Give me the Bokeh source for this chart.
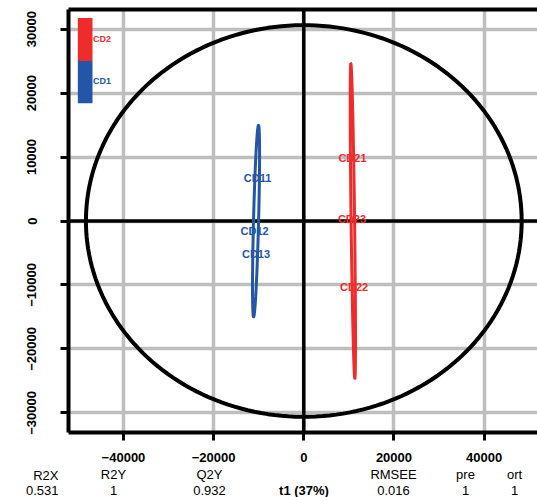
import numpy as np
from bokeh.plotting import figure
from bokeh.layouts import column
from bokeh.models import FixedTicker, Span, LinearAxis, Range1d, ColumnDataSource
from bokeh.embed import file_html
from bokeh.resources import INLINE
from bokeh.core.properties import value

# ---------------- data ----------------
samples = ["CD11", "CD12", "CD13", "CD21", "CD22", "CD23"]
classes = ["CD1", "CD1", "CD1", "CD2", "CD2", "CD2"]
t1 = [-10270, -10910, -10600, 10800, 11150, 10690]      # predictive score
to1 = [6750, -1600, -5180, 9860, -10260, 370]          # orthogonal score
legend_classes = ["CD2", "CD1"]                         # top -> bottom
class_colors = {"CD1": "#2356A6", "CD2": "#EE2C2C"}

x_ticks = [-40000, -20000, 0, 20000, 40000]
x_tick_labels = ["\u221240000", "\u221220000", "0", "20000", "40000"]
y_ticks = [-30000, -20000, -10000, 0, 10000, 20000, 30000]
y_tick_labels = ["\u221230000", "\u221220000", "\u221210000", "0", "10000", "20000", "30000"]

x_label = "t1 (37%)"
summary_names = ["R2X", "R2Y", "Q2Y", "RMSEE", "pre", "ort"]
summary_values = ["0.531", "1", "0.932", "0.016", "1", "1"]

FONT = "Liberation Sans"

# ---------------- statistics for ellipses ----------------
tx = np.array(t1, float)
ty = np.array(to1, float)
n = len(tx)
qf = (n - 2) / 2.0 * (0.05 ** (-2.0 / (n - 2)) - 1)           # F(0.95; 2, n-2)
hotFisN = (n - 1) * 2 * (n ** 2 - 1) / (n ** 2 * (n - 2)) * qf
rx = np.sqrt(np.var(tx, ddof=1) * hotFisN)
ry = np.sqrt(np.var(ty, ddof=1) * hotFisN)
chi2 = -2 * np.log(0.05)
ang = np.linspace(0, 2 * np.pi, 200)

xlim = rx * 1.08
ylim = ry * 1.08

# ---------------- layout ----------------
W = 537
H1, H2 = 467, 30
LEFT, TOP, BOTTOM = 68, 9, 35
frame_w = W - LEFT
ref_frame_w = 470.6
x_end = -xlim + 2 * xlim * frame_w / ref_frame_w

p = figure(width=W, height=H1, output_backend="svg", toolbar_location=None,
           x_range=Range1d(-xlim, x_end), y_range=Range1d(-ylim, ylim),
           min_border_left=LEFT, min_border_right=0, min_border_top=TOP,
           min_border_bottom=BOTTOM)
p.outline_line_color = None
p.background_fill_color = "white"

# grid
for g in (p.xgrid, p.ygrid):
    g.grid_line_color = "#BEBEBE"
    g.grid_line_width = 3.5
p.xgrid.ticker = FixedTicker(ticks=x_ticks)
p.ygrid.ticker = FixedTicker(ticks=y_ticks)

# axes
for ax in (p.xaxis, p.yaxis):
    ax.axis_line_color = "black"
    ax.axis_line_width = 4
    ax.major_tick_line_color = "black"
    ax.major_tick_line_width = 3
    ax.major_tick_out = 8
    ax.major_tick_in = 0
    ax.minor_tick_line_color = None
    ax.major_label_text_font = FONT
    ax.major_label_text_font_style = "bold"
    ax.major_label_text_font_size = "13px"
    ax.major_label_text_color = "black"
p.xaxis.ticker = FixedTicker(ticks=x_ticks)
p.xaxis.major_label_overrides = {t: l for t, l in zip(x_ticks, x_tick_labels)}
p.xaxis.major_label_standoff = 12
p.yaxis.ticker = FixedTicker(ticks=y_ticks)
p.yaxis.major_label_overrides = {t: l for t, l in zip(y_ticks, y_tick_labels)}
p.yaxis.major_label_orientation = "vertical"
p.yaxis.major_label_standoff = 24

top_axis = LinearAxis(ticker=FixedTicker(ticks=[]), major_label_text_font_size="0px",
                      major_tick_out=0, major_tick_in=0, minor_tick_out=0, minor_tick_in=0,
                      major_label_standoff=0, axis_line_width=4, axis_line_color="black")
p.add_layout(top_axis, "above")

# zero lines
p.add_layout(Span(location=0, dimension="height", line_color="black", line_width=3.5, level="underlay"))
p.add_layout(Span(location=0, dimension="width", line_color="black", line_width=3.5, level="underlay"))

# Hotelling ellipse
p.line(rx * np.cos(ang), ry * np.sin(ang), line_color="black", line_width=4)

# class ellipses
for cls in ["CD1", "CD2"]:
    idx = [i for i, c in enumerate(classes) if c == cls]
    xy = np.column_stack([tx[idx], ty[idx]])
    m = xy.mean(axis=0)
    S = np.cov(xy.T)
    L = np.linalg.cholesky(S)
    circ = np.vstack([np.cos(ang), np.sin(ang)]) * np.sqrt(chi2)
    pts = m[:, None] + L @ circ
    p.line(pts[0], pts[1], line_color=class_colors[cls], line_width=3)

# sample labels
src = ColumnDataSource(dict(x=t1, y=to1, name=samples,
                            color=[class_colors[c] for c in classes]))
p.text(x="x", y="y", text="name", source=src, text_color="color",
       text_font=value(FONT), text_font_style="bold", text_font_size="11px",
       text_align="center", text_baseline="middle")

# colour legend (positioned as fractions of the full plotting region)
xspan, yspan = 2 * xlim, 2 * ylim
lx0 = -xlim + 0.0198 * xspan
lx1 = -xlim + 0.051 * xspan
edges = [ylim - 0.0201 * yspan, ylim - 0.122 * yspan, ylim - 0.2215 * yspan]
txt_y = [ylim - 0.0699 * yspan, ylim - 0.1693 * yspan]
for k, cls in enumerate(legend_classes):
    p.quad(left=[lx0], right=[lx1], top=[edges[k]], bottom=[edges[k + 1]],
           fill_color=class_colors[cls], line_color=None)
    p.text(x=[-xlim + 0.052 * xspan], y=[txt_y[k]], text=[cls], text_color=class_colors[cls],
           text_font=value(FONT), text_font_style="bold", text_font_size="9px",
           text_align="left", text_baseline="middle")

# ---------------- summary strip below the plot ----------------
# (the column layout aligns this strip's frame with the main plot frame,
#  so its x range runs over the same page columns LEFT..W)
strip = figure(width=W, height=H2, output_backend="svg", toolbar_location=None,
               x_range=Range1d(LEFT, W), y_range=Range1d(H1 + H2, H1),
               x_axis_type=None, y_axis_type=None,
               min_border_left=0, min_border_right=0, min_border_top=0, min_border_bottom=0)
strip.outline_line_color = None
strip.xgrid.visible = False
strip.ygrid.visible = False

name_x = [44, 113, 209, 393, 465, 514]
row_y = [474, 490]
inside = [k for k, x in enumerate(name_x) if x > LEFT]
outside = [k for k, x in enumerate(name_x) if x <= LEFT]
strip.text(x=[name_x[k] for k in inside], y=[row_y[0]] * len(inside),
           text=[summary_names[k] for k in inside], text_color="black",
           text_font=value(FONT), text_font_size="13px",
           text_align="center", text_baseline="middle")
strip.text(x=[name_x[k] for k in inside], y=[row_y[1]] * len(inside),
           text=[summary_values[k] for k in inside], text_color="black",
           text_font=value(FONT), text_font_size="13px",
           text_align="center", text_baseline="middle")
strip.text(x=[303.5], y=[row_y[1]], text=[x_label], text_color="black",
           text_font=value(FONT), text_font_size="13px", text_font_style="bold",
           text_align="center", text_baseline="middle")

# the entry that lies left of the plot frame goes into the strip's left border
# as the labels of an invisible axis
for k in outside:
    side_axis = LinearAxis(ticker=FixedTicker(ticks=row_y),
                           major_label_overrides={row_y[0]: summary_names[k],
                                                  row_y[1]: summary_values[k]},
                           axis_line_color=None, major_tick_line_color=None,
                           minor_tick_line_color=None, major_tick_out=0, major_tick_in=0,
                           major_label_standoff=LEFT - name_x[k] - 14,
                           major_label_text_font=FONT, major_label_text_font_size="13px",
                           major_label_text_font_style="normal",
                           major_label_text_color="black")
    strip.add_layout(side_axis, "left")

layout = column(p, strip, spacing=0)
open("out.html", "w").write(file_html(layout, INLINE))
